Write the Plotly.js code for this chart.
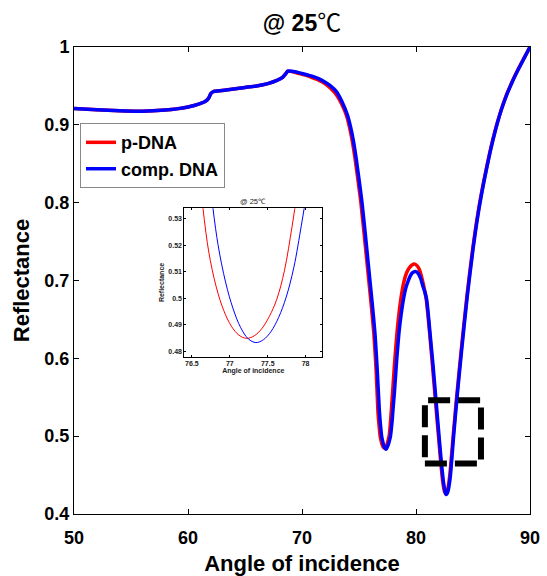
<!DOCTYPE html>
<html>
<head>
<meta charset="utf-8">
<script src="https://cdn.plot.ly/plotly-3.0.1.min.js"></script>
<style>html,body{margin:0;padding:0;background:#fff;}#chart{width:547px;height:576px;}</style>
</head>
<body>
<div id="chart"></div>
<script>
// ---- main chart data ----
const blueX = [50,52,54,56,58,59,60,61,61.5,61.8,62.0,62.2,63,64,65,66,67,67.8,68.3,68.6,68.75,69.5,70,70.5,71,71.5,72,72.5,73,73.5,74,74.25,74.5,74.75,75,75.25,75.55,75.85,76.15,76.4,76.6,76.78,76.85,76.92,76.985,77.06,77.13,77.2,77.27,77.344,77.42,77.5,77.6,77.68,77.76,77.84,77.91,77.98,78.1,78.3,78.5,78.7,78.9,79.1,79.3,79.5,79.7,79.95,80.2,80.4,80.6,80.8,80.94,81.1,81.23,81.5,81.75,82.0,82.2,82.4,82.55,82.65,82.8,83.0,83.3,83.6,84.0,84.5,85,85.5,86,86.5,87,87.5,88,88.5,89,89.5,90];
const blueY = [0.921,0.9195,0.918,0.9175,0.919,0.9205,0.923,0.927,0.930,0.934,0.940,0.9425,0.944,0.946,0.948,0.950,0.953,0.957,0.961,0.966,0.969,0.968,0.966,0.964,0.962,0.959,0.955,0.950,0.943,0.930,0.912,0.898,0.880,0.857,0.830,0.802,0.76,0.716,0.672,0.632,0.585,0.534,0.52,0.509,0.5,0.4945,0.49,0.4868,0.485,0.4833,0.4841,0.4865,0.4905,0.495,0.5,0.51,0.52,0.534,0.555,0.597,0.632,0.657,0.676,0.690,0.699,0.706,0.710,0.7115,0.709,0.703,0.693,0.684,0.675,0.653,0.632,0.59,0.5465,0.5037,0.47,0.442,0.429,0.425,0.429,0.447,0.5,0.55,0.61,0.68,0.74,0.79,0.83,0.865,0.895,0.92,0.94,0.957,0.972,0.986,1.0];
const redX = [50,52,54,56,58,59,60,61,61.5,61.8,62.0,62.2,63,64,65,66,67,67.8,68.3,68.6,68.75,69.5,70,70.5,71,71.5,72,72.5,73,73.5,73.9,74.15,74.4,74.65,74.9,75.15,75.45,75.75,76.05,76.3,76.5,76.66,76.72,76.79,76.854,76.93,77.007,77.1,77.2,77.27,77.33,77.466,77.55,77.64,77.71,77.77,77.83,77.95,78.15,78.35,78.55,78.75,78.95,79.15,79.4,79.65,79.9,80.15,80.35,80.55,80.75,80.9,81.05,81.2,81.45,81.7,81.95,82.15,82.35,82.5,82.6,82.75,82.95,83.25,83.55,83.95,84.45,84.95,85.45,85.95,86.45,86.95,87.45,87.95,88.45,88.95,89.45,90];
const redY = [0.921,0.9195,0.918,0.9175,0.919,0.9205,0.923,0.927,0.930,0.934,0.940,0.9425,0.944,0.946,0.948,0.950,0.953,0.957,0.961,0.966,0.969,0.967,0.965,0.963,0.960,0.957,0.953,0.947,0.939,0.926,0.912,0.898,0.880,0.857,0.830,0.802,0.76,0.716,0.672,0.632,0.585,0.532,0.52,0.509,0.5,0.4945,0.49,0.4866,0.4849,0.4852,0.4862,0.49,0.4945,0.5,0.509,0.52,0.532,0.557,0.6,0.636,0.663,0.684,0.699,0.709,0.716,0.72,0.721,0.718,0.712,0.701,0.688,0.676,0.655,0.632,0.59,0.5465,0.5037,0.47,0.441,0.429,0.426,0.43,0.448,0.498,0.548,0.608,0.678,0.738,0.788,0.828,0.863,0.893,0.918,0.939,0.956,0.971,0.985,1.0];

// ---- inset data ----
const insetRedX = [76.64,76.72,76.82,76.92,77.02,77.12,77.22,77.32,77.42,77.52,77.62,77.72,77.82,77.87];
const insetRedY = [0.5354,0.5179,0.5044,0.4954,0.4895,0.4861,0.4849,0.4858,0.4885,0.4931,0.4997,0.5104,0.5269,0.5364];
const insetBlueX = [76.774,76.844,76.944,77.044,77.144,77.244,77.344,77.444,77.544,77.644,77.744,77.844,77.944,77.994];
const insetBlueY = [0.5348,0.5203,0.5061,0.4960,0.4889,0.4847,0.4833,0.4844,0.4875,0.4928,0.5005,0.5116,0.5276,0.5363];

// ---- ticks / labels ----
const mainXTicks = [50,60,70,80,90];
const mainYTicks = [0.4,0.5,0.6,0.7,0.8,0.9,1];
const mainYTickText = ['0.4','0.5','0.6','0.7','0.8','0.9','1'];
const insetXTicks = [76.5,77,77.5,78];
const insetXTickText = ['76.5','77','77.5','78'];
const insetYTicks = [0.48,0.49,0.5,0.51,0.52,0.53];
const insetYTickText = ['0.48','0.49','0.5','0.51','0.52','0.53'];
const seriesNames = ['p-DNA','comp. DNA'];
const boxX = [80.78, 85.7];
const boxY = [0.465, 0.546];

const FONT = 'Liberation Sans, Arial, Helvetica, sans-serif';

const traces = [
  {x: redX, y: redY, name: seriesNames[0], type:'scatter', mode:'lines',
   line:{color:'#ff0000', width:3.5, shape:'spline', smoothing:0.6}, xaxis:'x', yaxis:'y'},
  {x: blueX, y: blueY, name: seriesNames[1], type:'scatter', mode:'lines',
   line:{color:'#0000ff', width:3.5, shape:'spline', smoothing:0.6}, xaxis:'x', yaxis:'y'},
  {x: insetRedX, y: insetRedY, type:'scatter', mode:'lines', showlegend:false,
   line:{color:'#ff0000', width:1, shape:'spline', smoothing:1}, xaxis:'x2', yaxis:'y2'},
  {x: insetBlueX, y: insetBlueY, type:'scatter', mode:'lines', showlegend:false,
   line:{color:'#0000ff', width:1, shape:'spline', smoothing:1}, xaxis:'x2', yaxis:'y2'}
];

const layout = {
  width:547, height:576,
  margin:{l:74, r:17, t:47, b:62},
  paper_bgcolor:'#ffffff', plot_bgcolor:'#ffffff',
  font:{family:FONT, color:'#000'},
  title:{text:'<b>@ 25</b><span style="font-family:\'Noto Sans CJK SC\';font-size:24px;">℃</span>',
         font:{family:FONT, size:23, color:'#000'},
         x:0.5, xref:'paper', xanchor:'center', y:1-23/576, yref:'container', yanchor:'middle'},
  showlegend:true,
  legend:{x:0.0132, y:0.837, xanchor:'left', yanchor:'top', bgcolor:'#ffffff',
          bordercolor:'#888888', borderwidth:1, font:{family:FONT, size:18, weight:'bold', color:'#000'},
          itemwidth:30, tracegroupgap:0},
  xaxis:{domain:[0,1], anchor:'y', range:[50,90], tickvals:mainXTicks, ticktext:mainXTicks.map(String),
         ticks:'inside', ticklen:5, tickcolor:'#000', mirror:'ticks', showline:true, linecolor:'#000', linewidth:1,
         ticklabelstandoff:7,
         showgrid:false, zeroline:false, tickfont:{family:FONT, size:18, weight:'bold', color:'#000'},
         title:{text:'Angle of incidence', font:{family:FONT, size:22, weight:'bold', color:'#000'}, standoff:10}},
  yaxis:{domain:[0,1], anchor:'x', range:[0.4,1], tickvals:mainYTicks, ticktext:mainYTickText,
         ticks:'inside', ticklen:5, tickcolor:'#000', mirror:'ticks', showline:true, linecolor:'#000', linewidth:1,
         showgrid:false, zeroline:false, tickfont:{family:FONT, size:18, weight:'bold', color:'#000'},
         title:{text:'Reflectance', font:{family:FONT, size:22, weight:'bold', color:'#000'}, standoff:8}},
  xaxis2:{domain:[0.242,0.5445], anchor:'y2', range:[76.4,78.22], tickvals:insetXTicks, ticktext:insetXTickText,
          ticks:'inside', ticklen:2, tickcolor:'#000', mirror:'ticks', showline:true, linecolor:'#000', linewidth:1,
          showgrid:false, zeroline:false, tickfont:{family:FONT, size:7, weight:'bold', color:'#222'},
          title:{text:'Angle of incidence', font:{family:FONT, size:7, weight:'bold', color:'#222'}, standoff:2}},
  yaxis2:{domain:[0.337,0.6546], anchor:'x2', range:[0.478,0.534], tickvals:insetYTicks, ticktext:insetYTickText,
          ticks:'inside', ticklen:2, tickcolor:'#000', mirror:'ticks', showline:true, linecolor:'#000', linewidth:1,
          showgrid:false, zeroline:false, tickfont:{family:FONT, size:7, weight:'bold', color:'#222'},
          title:{text:'Reflectance', font:{family:FONT, size:7, weight:'bold', color:'#222'}, standoff:2}},
  annotations:[
    {text:'@ 25℃', xref:'x2 domain', yref:'y2 domain', x:0.5, y:1, xanchor:'center', yanchor:'bottom',
     showarrow:false, font:{family:FONT, size:7.5, color:'#222'}, yshift:0}
  ],
  shapes:[
    {type:'rect', xref:'x', yref:'y', x0:boxX[0], x1:boxX[1], y0:boxY[0], y1:boxY[1],
     line:{color:'#000', width:6, dash:'22px,8px'}, fillcolor:'rgba(0,0,0,0)', layer:'above'}
  ]
};

Plotly.newPlot('chart', traces, layout, {displayModeBar:false, staticPlot:true});
</script>
</body>
</html>
